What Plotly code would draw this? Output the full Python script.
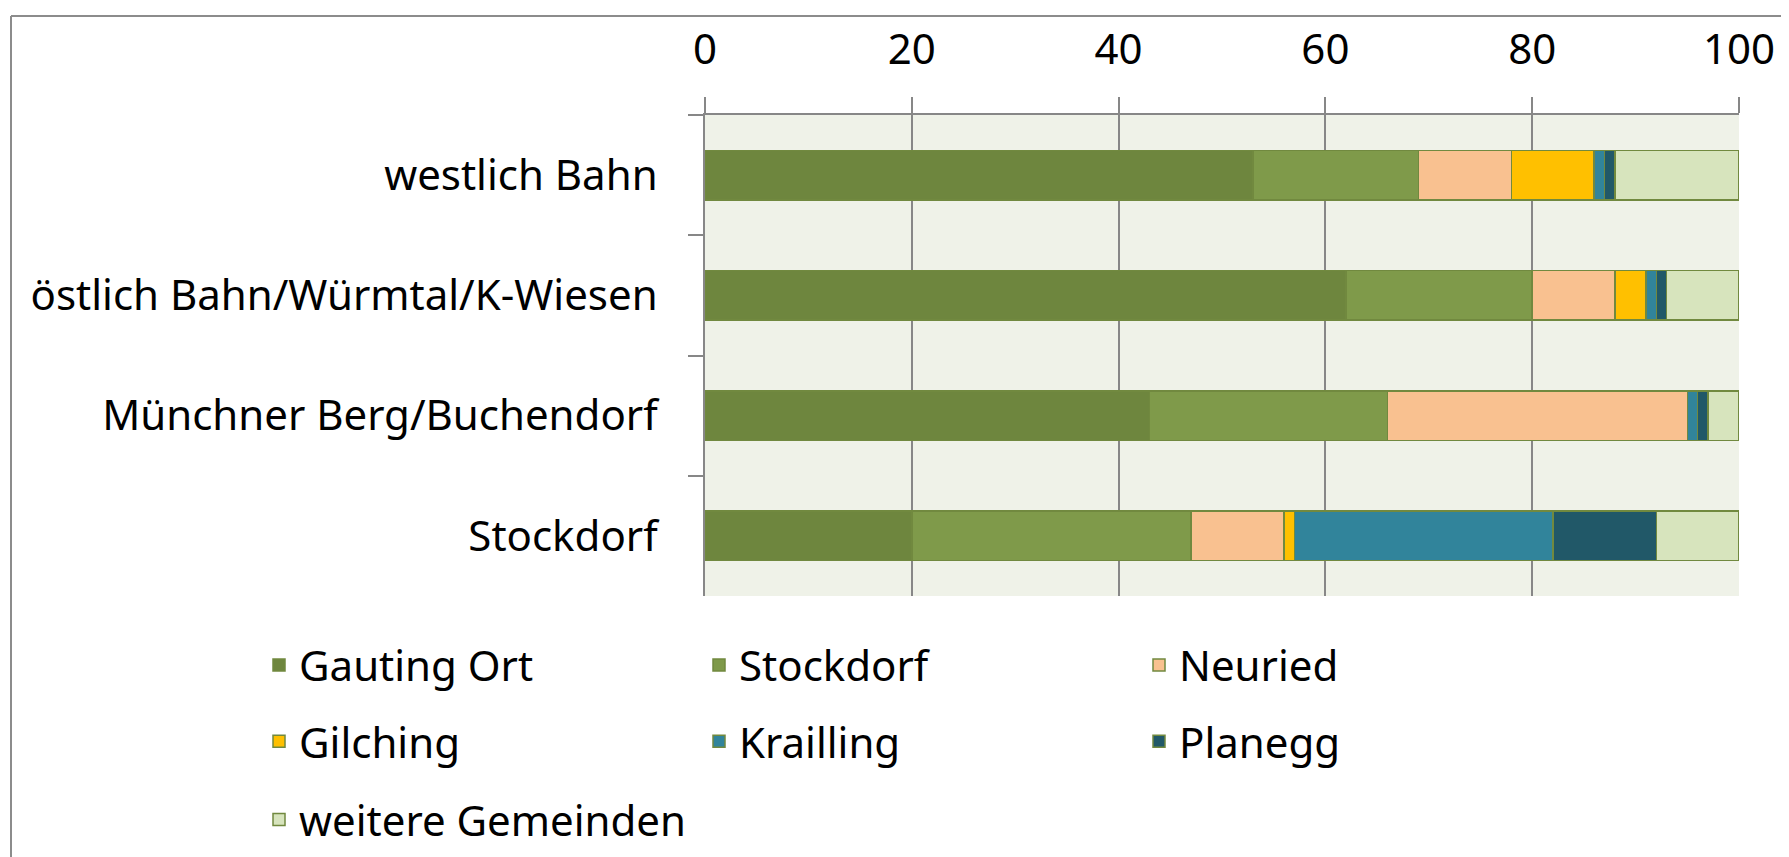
import plotly.graph_objects as go

# Data (Anteile in %)
areas = ["westlich Bahn", "östlich Bahn/Würmtal/K-Wiesen", "Münchner Berg/Buchendorf", "Stockdorf"]

gauting_ort = [53, 62, 43, 20]
stockdorf = [16, 18, 23, 27]
neuried = [9, 8, 29, 9]
gilching = [8, 3, 0, 1]
krailling = [1, 1, 1, 25]
planegg = [1, 1, 1, 10]
weitere = [12, 7, 3, 8]

x_ticks = [0, 20, 40, 60, 80, 100]

series = [
    ("Gauting Ort", gauting_ort, "#6E863E", "legend"),
    ("Stockdorf", stockdorf, "#7F9A4A", "legend"),
    ("Neuried", neuried, "#F9C190", "legend"),
    ("Gilching", gilching, "#FFC000", "legend2"),
    ("Krailling", krailling, "#31849B", "legend2"),
    ("Planegg", planegg, "#215868", "legend2"),
    ("weitere Gemeinden", weitere, "#D7E4BD", "legend3"),
]

FONT = "Noto Sans"
FS = 42

fig = go.Figure()

for name, vals, color, leg in series:
    fig.add_trace(go.Bar(
        y=areas,
        x=vals,
        name=name,
        orientation="h",
        marker_color=color,
        marker_line=dict(color="#71893F", width=1.5),
        legend=leg,
    ))

# page has an 8px body margin, so positions are shifted back by 8px
OFF = 8
W, H = 1789, 857
L, T = 705 - OFF, 115 - OFF
pw, ph = 1034, 486
R, B = W - L - pw, H - T - ph


def px_x(x):
    return (x - OFF - L) / pw


def px_y(y):
    return (T + ph - (y - OFF)) / ph


leg_common = dict(
    orientation="h",
    font=dict(family=FONT, size=FS, color="#000000"),
    entrywidth=395,
    entrywidthmode="pixels",
    xanchor="left",
    yanchor="middle",
    bgcolor="rgba(0,0,0,0)",
    traceorder="normal",
)

fig.update_layout(
    width=W,
    height=H,
    margin=dict(l=L, r=R, t=T, b=B),
    paper_bgcolor="white",
    plot_bgcolor="#EFF2E8",
    barmode="stack",
    bargap=0.59,
    font=dict(family=FONT, size=FS, color="#000000"),
    showlegend=True,
    legend=dict(leg_common, x=px_x(259), y=px_y(671)),
    legend2=dict(leg_common, x=px_x(259), y=px_y(748)),
    legend3=dict(leg_common, x=px_x(259), y=px_y(827)),
    xaxis=dict(
        side="top",
        range=[0, 100],
        tickvals=x_ticks,
        showgrid=True,
        gridcolor="#878787",
        gridwidth=2,
        showline=True,
        linecolor="#878787",
        linewidth=2,
        ticks="outside",
        ticklen=16,
        tickwidth=2,
        tickcolor="#878787",
        ticklabelstandoff=16,
        zeroline=False,
        tickfont=dict(family=FONT, size=FS),
        fixedrange=True,
    ),
    yaxis=dict(
        autorange="reversed",
        showgrid=False,
        showline=True,
        linecolor="#878787",
        linewidth=2,
        ticks="outside",
        tickson="boundaries",
        ticklen=15,
        tickwidth=2,
        tickcolor="#878787",
        ticklabelstandoff=37,
        tickfont=dict(family=FONT, size=FS),
        fixedrange=True,
    ),
)

# figure frame (left and top edges visible)
fig.add_shape(type="line", xref="paper", yref="paper",
              x0=px_x(11), x1=px_x(11), y0=px_y(900), y1=px_y(15),
              line=dict(color="#8C8C8C", width=2))
fig.add_shape(type="line", xref="paper", yref="paper",
              x0=px_x(11), x1=px_x(1800), y0=px_y(15), y1=px_y(15),
              line=dict(color="#8C8C8C", width=2))

fig.write_html("out.html")
